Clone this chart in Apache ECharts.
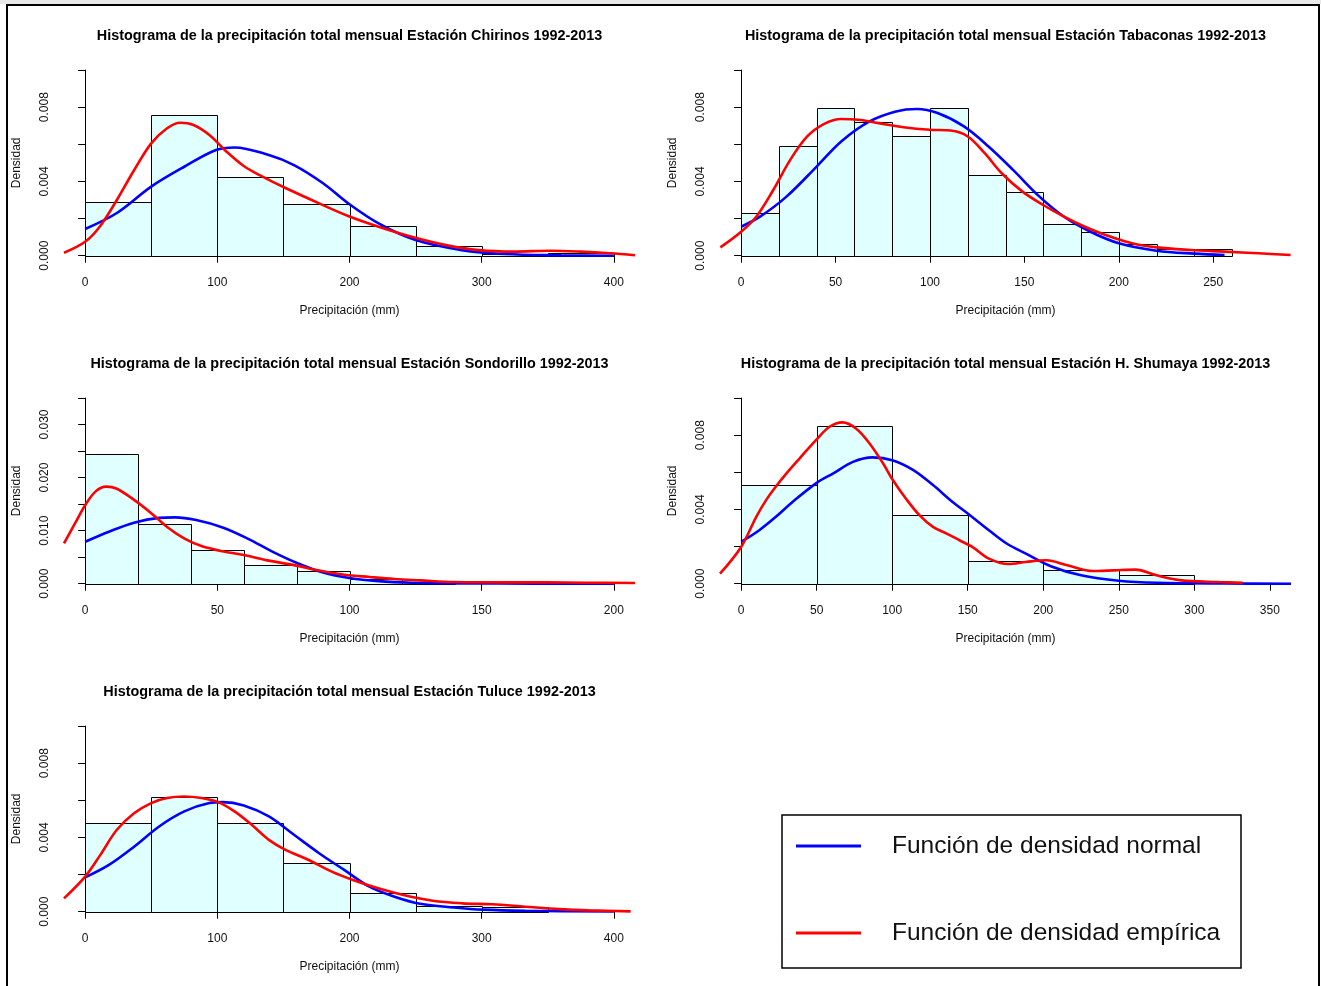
<!DOCTYPE html>
<html><head><meta charset="utf-8">
<script src="https://cdn.jsdelivr.net/npm/echarts@6/dist/echarts.min.js"></script>
<style>html,body{margin:0;padding:0;background:#fff}#c{width:1321px;height:986px}</style>
</head><body><div id="c"></div>
<script>
// ---------------- DATA ----------------
const titleChirinos = 'Histograma de la precipitación total mensual Estación Chirinos 1992-2013';
const titleTabaconas = 'Histograma de la precipitación total mensual Estación Tabaconas 1992-2013';
const titleSondorillo = 'Histograma de la precipitación total mensual Estación Sondorillo 1992-2013';
const titleShumaya = 'Histograma de la precipitación total mensual Estación H. Shumaya 1992-2013';
const titleTuluce = 'Histograma de la precipitación total mensual Estación Tuluce 1992-2013';
const xAxisTitle = 'Precipitación (mm)';
const yAxisTitle = 'Densidad';
const normalName = 'Función de densidad normal';
const empiricalName = 'Función de densidad empírica';

// Chirinos
const chirinosBreaks = [0, 50, 100, 150, 200, 250, 300, 350, 400];
const chirinosDensity = [0.00288, 0.0076, 0.00424, 0.0028, 0.0016, 0.00053, 0.00008, 0.00015];
const chirinosNormal = [[0,0.00144],[24,0.0023],[50,0.00372],[75,0.00479],[99,0.00569],[113,0.00583],[139,0.00542],[158,0.00488],[180,0.0039],[199,0.00282],[222,0.00174],[250,0.00084],[285,0.0003],[317,0.00009],[360,0.00002],[400,0.0]];
const chirinosEmpirical = [[-16,0.00016],[0,0.00075],[11,0.00156],[24,0.003],[37,0.0046],[50,0.00605],[62,0.00686],[72,0.00716],[82,0.00704],[94,0.0065],[107,0.0056],[120,0.00483],[132,0.00434],[152,0.00363],[177,0.00282],[199,0.00214],[222,0.00156],[247,0.00102],[273,0.00057],[298,0.0003],[324,0.00022],[352,0.00027],[375,0.00022],[397,0.00013],[416,0.00002]];
const chirinosXRange = [0, 400];
const chirinosXTicks = [0, 100, 200, 300, 400];
const chirinosYTicks = [0, 0.002, 0.004, 0.006, 0.008, 0.010];
const chirinosYLabels = ['0.000', '', '0.004', '', '0.008', ''];

// Tabaconas
const tabaconasBreaks = [0, 20, 40, 60, 80, 100, 120, 140, 160, 180, 200, 220, 240, 260];
const tabaconasDensity = [0.0023, 0.0059, 0.00795, 0.00719, 0.00642, 0.00795, 0.00437, 0.00342, 0.00173, 0.00129, 0.00061, 0.00034, 0.00036];
const tabaconasNormal = [[0,0.00156],[10,0.0021],[24,0.00318],[40,0.0048],[53,0.00615],[68,0.00723],[82,0.00777],[93,0.0079],[104,0.00768],[118,0.00696],[131,0.00588],[144,0.00462],[158,0.00318],[171,0.0021],[185,0.00129],[200,0.00067],[220,0.00027],[240,0.00011],[256,0.00004]];
const tabaconasEmpirical = [[-11,0.00045],[0,0.00129],[8,0.0021],[17,0.00354],[26,0.00516],[35,0.00642],[44,0.0071],[53,0.00736],[62,0.00732],[73,0.00714],[86,0.00692],[100,0.00678],[111,0.00674],[120,0.00642],[129,0.00552],[138,0.00444],[149,0.00345],[160,0.00273],[171,0.0021],[182,0.00156],[193,0.00112],[207,0.00067],[220,0.00045],[238,0.00031],[256,0.00022],[274,0.00013],[291,0.00004]];
const tabaconasXRange = [0, 280];
const tabaconasXTicks = [0, 50, 100, 150, 200, 250];
const tabaconasYTicks = [0, 0.002, 0.004, 0.006, 0.008, 0.010];
const tabaconasYLabels = ['0.000', '', '0.004', '', '0.008', ''];

// Sondorillo
const sondorilloBreaks = [0, 20, 40, 60, 80, 100, 120, 140];
const sondorilloDensity = [0.02445, 0.01118, 0.00638, 0.00354, 0.00246, 0.00095, 0.00038];
const sondorilloNormal = [[0,0.0079],[9,0.0098],[18.5,0.0115],[28,0.0124],[34,0.0125],[42,0.012],[52,0.0106],[61.5,0.0085],[71,0.0060],[80.6,0.0038],[90,0.0021],[100,0.00107],[111,0.00048],[123.5,0.00019],[143,0.00006],[170,0.00002],[200,0.0]];
const sondorilloEmpirical = [[-8,0.00758],[-3.8,0.0114],[0,0.0148],[4,0.0174],[8,0.0183],[12,0.0179],[18.5,0.0158],[25,0.0133],[31,0.0107],[37.6,0.0085],[44,0.0071],[52,0.0061],[60,0.0054],[69,0.0044],[79,0.0035],[88.5,0.0025],[98,0.0017],[107.6,0.00126],[117,0.00088],[126.7,0.00063],[139.5,0.00032],[158.6,0.00025],[174.5,0.00025],[188.8,0.00019],[208,0.00013]];
const sondorilloXRange = [0, 200];
const sondorilloXTicks = [0, 50, 100, 150, 200];
const sondorilloYTicks = [0, 0.005, 0.010, 0.015, 0.020, 0.025, 0.030, 0.035];
const sondorilloYLabels = ['0.000', '', '0.010', '', '0.020', '', '0.030', ''];

// H. Shumaya
const shumayaBreaks = [0, 50, 100, 150, 200, 250, 300];
const shumayaDensity = [0.00529, 0.00849, 0.0037, 0.0012, 0.00076, 0.00049];
const shumayaNormal = [[0,0.00225],[12,0.00288],[23,0.0036],[34,0.0044],[50,0.00543],[61,0.00594],[74,0.00656],[87,0.0068],[100,0.00665],[114,0.00612],[127,0.00531],[140,0.0044],[150,0.00378],[164,0.00288],[176,0.00215],[188.5,0.00162],[205,0.00094],[225,0.00045],[250,0.00016],[275,0.00005],[320,0.00001],[364,0.0]];
const shumayaEmpirical = [[-14,0.00054],[0,0.00198],[10,0.0036],[16.5,0.0045],[22,0.00513],[30,0.00594],[38.6,0.00674],[50,0.00777],[58.5,0.00845],[67,0.00869],[76,0.00836],[85,0.00755],[94,0.00647],[100.4,0.00558],[109,0.00459],[118,0.00369],[127,0.00306],[136,0.0027],[144.5,0.00234],[153,0.00198],[164,0.00135],[177,0.00106],[188.5,0.00117],[202,0.00126],[216,0.00099],[233,0.00068],[247,0.00072],[261,0.00076],[275,0.00045],[291.5,0.00018],[316.5,0.00009],[332,0.00005]];
const shumayaXRange = [0, 350];
const shumayaXTicks = [0, 50, 100, 150, 200, 250, 300, 350];
const shumayaYTicks = [0, 0.002, 0.004, 0.006, 0.008, 0.010];
const shumayaYLabels = ['0.000', '', '0.004', '', '0.008', ''];

// Tuluce
const tuluceBreaks = [0, 50, 100, 150, 200, 250, 300, 350];
const tuluceDensity = [0.00477, 0.00615, 0.00477, 0.00261, 0.00099, 0.00032, 0.00027];
const tuluceNormal = [[0,0.00185],[18,0.00252],[37,0.0035],[56,0.00459],[75,0.0054],[94,0.00585],[104,0.0059],[120,0.00572],[139,0.00513],[158,0.00414],[177,0.00315],[196,0.00225],[215,0.00135],[234,0.00081],[253.5,0.00043],[279,0.00023],[301,0.00011],[333,0.00005],[400,0.00002]];
const tuluceEmpirical = [[-16,0.00072],[0,0.00189],[11.5,0.00306],[24,0.00441],[37,0.0053],[50,0.00585],[62,0.00612],[75,0.0062],[88,0.00612],[100.6,0.0059],[113,0.0054],[126,0.00468],[139,0.00387],[151.6,0.00333],[167.5,0.00284],[186.6,0.00216],[202.6,0.00171],[221.7,0.00126],[240.8,0.0009],[263,0.00059],[285.4,0.00045],[307.7,0.0004],[333,0.00027],[358.6,0.00014],[381,0.00007],[412.7,0.00002]];
const tuluceXRange = [0, 400];
const tuluceXTicks = [0, 100, 200, 300, 400];
const tuluceYTicks = [0, 0.002, 0.004, 0.006, 0.008, 0.010];
const tuluceYLabels = ['0.000', '', '0.004', '', '0.008', ''];

// ---------------- LAYOUT ----------------
const FONT = '"Liberation Sans", Arial, Helvetica, sans-serif';
const colLeft = [64, 720];
const plotW = 571;
const rowTop = [70, 398, 726];   // y of the top tick
const innerH = 185.7;            // 0 .. ymax span
const pad = 0.04;

const panels = [
  {title: titleChirinos, breaks: chirinosBreaks, density: chirinosDensity, normal: chirinosNormal, empirical: chirinosEmpirical, xr: chirinosXRange, xt: chirinosXTicks, yt: chirinosYTicks, yl: chirinosYLabels, col: 0, row: 0},
  {title: titleTabaconas, breaks: tabaconasBreaks, density: tabaconasDensity, normal: tabaconasNormal, empirical: tabaconasEmpirical, xr: tabaconasXRange, xt: tabaconasXTicks, yt: tabaconasYTicks, yl: tabaconasYLabels, col: 1, row: 0},
  {title: titleSondorillo, breaks: sondorilloBreaks, density: sondorilloDensity, normal: sondorilloNormal, empirical: sondorilloEmpirical, xr: sondorilloXRange, xt: sondorilloXTicks, yt: sondorilloYTicks, yl: sondorilloYLabels, col: 0, row: 1},
  {title: titleShumaya, breaks: shumayaBreaks, density: shumayaDensity, normal: shumayaNormal, empirical: shumayaEmpirical, xr: shumayaXRange, xt: shumayaXTicks, yt: shumayaYTicks, yl: shumayaYLabels, col: 1, row: 1},
  {title: titleTuluce, breaks: tuluceBreaks, density: tuluceDensity, normal: tuluceNormal, empirical: tuluceEmpirical, xr: tuluceXRange, xt: tuluceXTicks, yt: tuluceYTicks, yl: tuluceYLabels, col: 0, row: 2}
];

const grid = [], xAxis = [], yAxis = [], series = [], graphic = [];
const axisColor = '#000';
const labelStyle = {fontFamily: FONT, fontSize: 12, color: '#111'};

panels.forEach((p, i) => {
  const left = colLeft[p.col];
  const topTick = rowTop[p.row];
  const xspan = p.xr[1] - p.xr[0];
  const xlo = p.xr[0] - pad * xspan, xhi = p.xr[1] + pad * xspan;
  const ymax = p.yt[p.yt.length - 1];
  const ppu = plotW / (xhi - xlo);
  const padY = pad * innerH;
  // grid A: full R plot region (data)
  grid.push({left: left, top: topTick - padY, width: plotW, height: innerH + 2 * padY});
  // grid B: tick span (axes)
  const bLeft = left + (p.xt[0] - xlo) * ppu;
  const bW = (p.xt[p.xt.length - 1] - p.xt[0]) * ppu;
  grid.push({left: bLeft, top: topTick, width: bW, height: innerH});
  const a = 2 * i, b = 2 * i + 1;
  xAxis.push({type: 'value', gridIndex: a, min: xlo, max: xhi,
    axisLine: {show: false}, axisTick: {show: false}, axisLabel: {show: false}, splitLine: {show: false},
    name: xAxisTitle, nameLocation: 'middle', nameGap: 42, nameTextStyle: labelStyle});
  yAxis.push({type: 'value', gridIndex: a, min: -pad * ymax, max: ymax * (1 + pad),
    axisLine: {show: false}, axisTick: {show: false}, axisLabel: {show: false}, splitLine: {show: false},
    name: yAxisTitle, nameLocation: 'middle', nameGap: 41, nameRotate: 90, nameTextStyle: labelStyle});
  const xStep = p.xt[1] - p.xt[0];
  xAxis.push({type: 'value', gridIndex: b, position: 'bottom', offset: padY,
    min: p.xt[0], max: p.xt[p.xt.length - 1], interval: xStep,
    axisLine: {show: true, lineStyle: {color: axisColor, width: 1}},
    axisTick: {show: true, length: 7, lineStyle: {color: axisColor, width: 1}},
    axisLabel: Object.assign({margin: 14, formatter: v => String(Math.round(v))}, labelStyle),
    splitLine: {show: false}});
  const yStep = p.yt[1] - p.yt[0];
  yAxis.push({type: 'value', gridIndex: b, position: 'left', offset: bLeft - left,
    min: 0, max: ymax, interval: yStep,
    axisLine: {show: true, lineStyle: {color: axisColor, width: 1}},
    axisTick: {show: true, length: 7, lineStyle: {color: axisColor, width: 1}},
    axisLabel: Object.assign({margin: 13, rotate: 90, formatter: v => {
      const k = p.yt.findIndex(t => Math.abs(t - v) < 1e-9);
      return k >= 0 ? p.yl[k] : '';
    }}, labelStyle),
    splitLine: {show: false}});
  // histogram
  const bins = p.density.map((d, k) => [p.breaks[k], p.breaks[k + 1], d]);
  series.push({type: 'custom', xAxisIndex: a, yAxisIndex: a, data: bins, encode: {x: [0, 1], y: 2},
    renderItem: (params, api) => {
      const p0 = api.coord([api.value(0), 0]);
      const p1 = api.coord([api.value(1), api.value(2)]);
      return {type: 'rect', shape: {x: Math.round(p0[0]) + 0.5, y: Math.round(p1[1]) + 0.5,
        width: Math.round(p1[0]) - Math.round(p0[0]), height: Math.round(p0[1]) - Math.round(p1[1])},
        style: {fill: '#e0ffff', stroke: '#000', lineWidth: 1}};
    }, z: 1});
  series.push({type: 'line', name: normalName, xAxisIndex: a, yAxisIndex: a, data: p.normal,
    smooth: 0.35, symbol: 'none', lineStyle: {color: '#0000ff', width: 2.6}, itemStyle: {color: '#0000ff'}, z: 3});
  series.push({type: 'line', name: empiricalName, xAxisIndex: a, yAxisIndex: a, data: p.empirical,
    smooth: 0.35, symbol: 'none', lineStyle: {color: '#ff0000', width: 2.6}, itemStyle: {color: '#ff0000'}, z: 4});
  // title
  graphic.push({type: 'text', x: left + plotW / 2, y: topTick - 34,
    style: {text: p.title, font: 'bold 14.4px ' + FONT, fill: '#000', textAlign: 'center', textVerticalAlign: 'middle'}});
});

// outer frame and legend box
graphic.push({type: 'rect', shape: {x: 0, y: 0, width: 1321, height: 4}, style: {fill: '#e8e8e8'}, z: -1});
graphic.push({type: 'rect', shape: {x: 7, y: 5, width: 1312, height: 1000}, style: {fill: 'none', stroke: '#000', lineWidth: 2}});
graphic.push({type: 'rect', shape: {x: 782, y: 815, width: 459, height: 153}, style: {fill: 'none', stroke: '#000', lineWidth: 1.5}});

const option = {
  animation: false,
  backgroundColor: '#fff',
  grid: grid, xAxis: xAxis, yAxis: yAxis, series: series, graphic: graphic,
  legend: {data: [normalName, empiricalName], orient: 'vertical', left: 796, top: 827, padding: 0,
    itemGap: 49, icon: 'rect', itemWidth: 65, itemHeight: 3, selectedMode: false,
    textStyle: {fontFamily: FONT, fontSize: 24.5, color: '#111', lineHeight: 30, padding: [8, 0, 0, 26]}}
};
const chart = echarts.init(document.getElementById('c'), null, {renderer: 'canvas'});
chart.setOption(option);
</script></body></html>
